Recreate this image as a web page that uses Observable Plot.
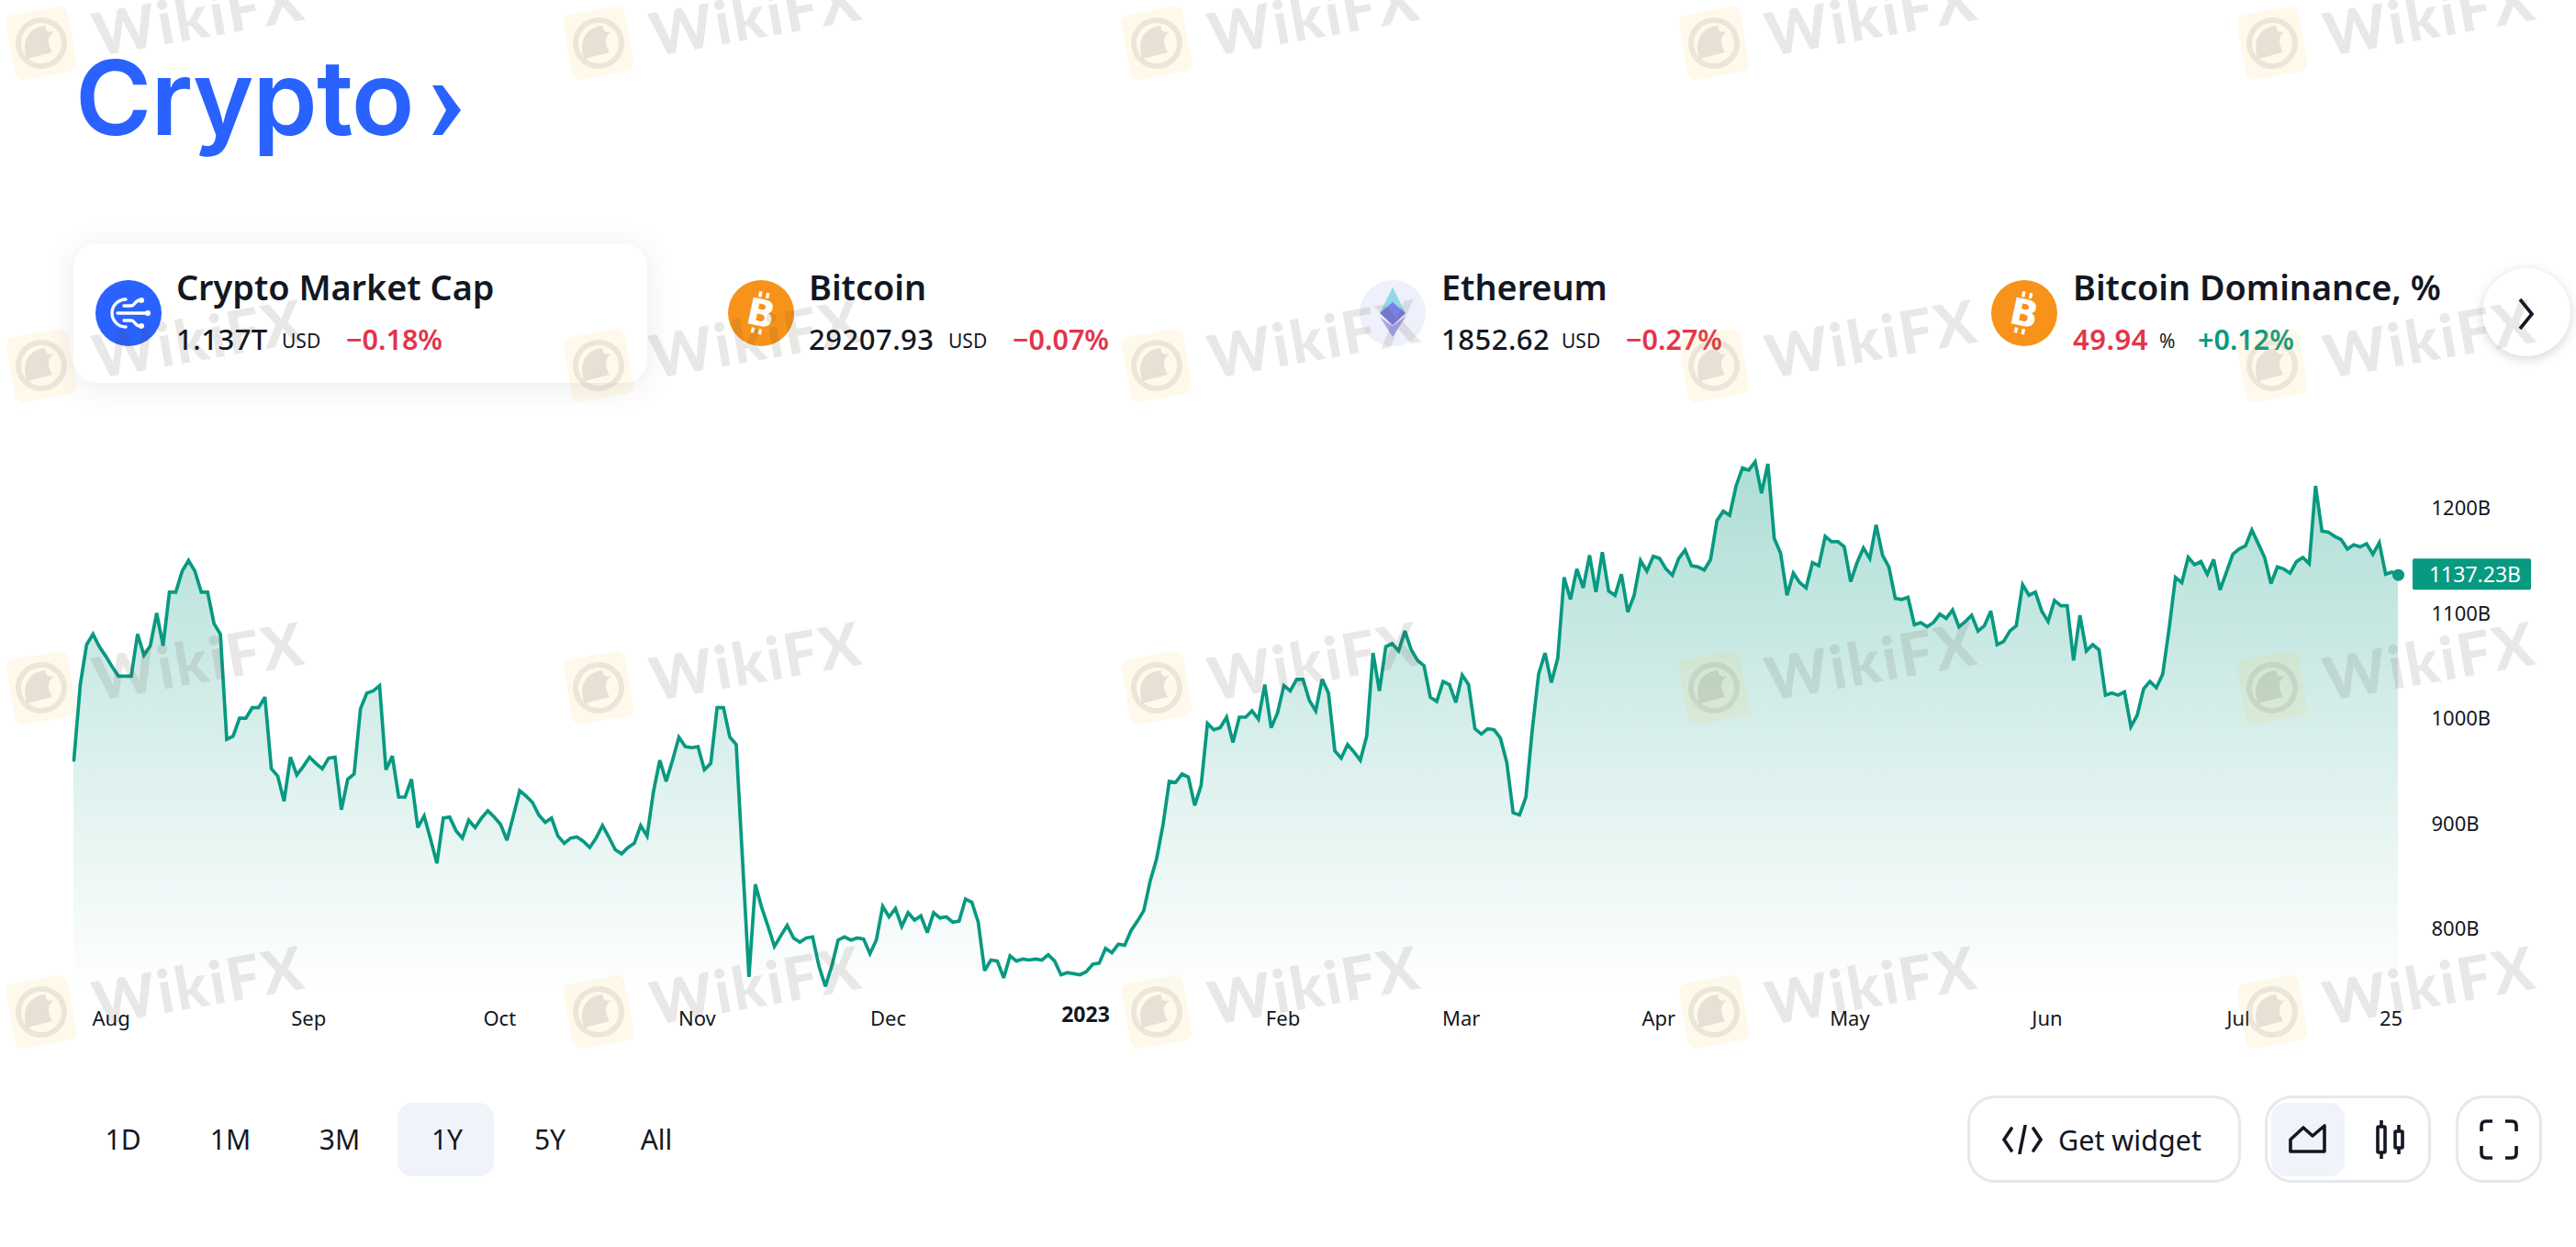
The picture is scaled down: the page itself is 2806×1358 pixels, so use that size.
<!DOCTYPE html>
<html><head><meta charset="utf-8">
<script src="https://cdn.jsdelivr.net/npm/d3@7"></script>
<script src="https://cdn.jsdelivr.net/npm/@observablehq/plot@0.6"></script>
<style>
html,body{margin:0;padding:0;background:#fff;}
body{width:2806px;height:1358px;overflow:hidden;position:relative;font-family:"Noto Sans",sans-serif;color:#131722;}
#head{position:relative;height:480px;}
#foot{position:relative;height:218px;}
#chart{height:660px;}
.a{position:absolute;white-space:nowrap;}
.t{font-size:37.8px;font-weight:600;line-height:44px;}
.v{font-size:31px;font-weight:500;line-height:36px;letter-spacing:.5px;}
.u{font-size:21px;line-height:36px;}
.r{font-size:30.5px;font-weight:600;color:#e2354a;line-height:36px;}
.g{font-size:30.5px;font-weight:600;color:#089981;line-height:36px;}
.c{position:absolute;width:72px;height:72px;border-radius:50%;}
.rg{font-size:30px;line-height:36px;transform:translateX(-50%);}
.box{position:absolute;border:3px solid #e6e8ee;border-radius:30px;box-sizing:border-box;background:#fff;}
#wm{position:absolute;left:0;top:0;pointer-events:none;}
</style></head><body>
<div id="head"></div><div id="chart"></div><div id="foot"></div>
<script>
// ---- data -----------------------------------------------------------
const seriesStart = "2022-07-26";
const marketCap = [
961,1033,1071,1081,1069,1060,1050,1041,1041,1041,1081,1061,1070,1101,1070,1121,1121,1141,1151,1141,
1121,1121,1091,1081,981,984,1001,1001,1011,1011,1021,953,946,922,964,947,955,964,958,953,
963,964,914,943,948,1010,1025,1027,1032,952,965,926,926,943,897,908,886,863,906,907,
894,887,904,897,906,913,907,900,885,908,932,927,921,909,902,906,889,882,887,888,
884,878,887,899,888,876,872,878,882,899,889,931,961,941,961,983,974,973,974,952,
958,1011,1011,983,976,865,755,843,821,803,784,794,804,792,788,792,793,765,746,765,
790,793,790,792,791,777,790,822,812,820,803,816,809,813,797,816,811,812,807,808,
829,826,807,761,771,770,754,775,770,772,771,772,771,776,770,757,759,758,757,760,
767,768,782,778,786,785,799,808,818,846,867,899,941,940,948,945,918,937,996,990,
992,1002,978,1002,1002,1008,1000,1033,992,1006,1032,1027,1038,1038,1018,1008,1038,1025,970,963,
976,969,961,984,1063,1027,1069,1072,1065,1084,1066,1056,1051,1021,1017,1036,1033,1016,1042,1033,
991,986,991,990,982,959,911,909,926,990,1043,1063,1035,1058,1135,1114,1143,1125,1156,1121,
1159,1122,1118,1138,1102,1118,1151,1141,1155,1153,1143,1137,1153,1161,1146,1145,1142,1152,1189,1198,
1194,1222,1239,1237,1245,1215,1243,1172,1158,1118,1139,1130,1125,1149,1146,1174,1169,1169,1164,1131,
1149,1163,1153,1185,1156,1145,1115,1114,1116,1090,1092,1088,1092,1100,1096,1104,1088,1093,1099,1084,
1089,1103,1071,1074,1084,1089,1128,1118,1121,1103,1093,1113,1108,1108,1056,1099,1065,1071,1066,1023,
1025,1023,1026,993,1004,1029,1036,1030,1043,1086,1135,1130,1154,1147,1150,1138,1152,1123,1140,1157,
1162,1165,1180,1167,1154,1129,1145,1143,1139,1150,1154,1148,1222,1179,1178,1174,1171,1162,1166,1164,
1167,1157,1168,1138,1140,1137.23];
const priceTicks = [800,900,1000,1100,1200];
const monthTickDates = ["2022-08-01","2022-09-01","2022-10-01","2022-11-01","2022-12-01","2023-02-01","2023-03-01","2023-04-01","2023-05-01","2023-06-01","2023-07-01","2023-07-25"];
const monthTickLabels = ["Aug","Sep","Oct","Nov","Dec","Feb","Mar","Apr","May","Jun","Jul","25"];
const yearTickDate = "2023-01-01";
const yearTickLabel = "2023";
const tickers = ["Crypto Market Cap","Bitcoin","Ethereum","Bitcoin Dominance, %"];
const tickerValues = ["1.137T","29207.93","1852.62","49.94"];
const tickerUnits = ["USD","USD","USD","%"];
const tickerChanges = ["−0.18%","−0.07%","−0.27%","+0.12%"];
const ranges = ["1D","1M","3M","1Y","5Y","All"];
const lastLabel = "1137.23B";

// ---- chart ----------------------------------------------------------
const UP = "#089981";
const start = new Date(seriesStart);
const table = marketCap.map((v,i)=>({date:d3.utcDay.offset(start,i),value:v}));
const last = table[table.length-1];
const tickDates = monthTickDates.map(d=>new Date(d));
const labelOf = new Map(tickDates.map((d,i)=>[+d,monthTickLabels[i]]));
const FONT = '"Noto Sans",sans-serif';

const chart = Plot.plot({
  width:2806,height:660,
  marginLeft:80,marginRight:194,marginTop:0,marginBottom:60,
  style:{fontFamily:FONT,fontSize:"22px",color:"#131722",background:"transparent",overflow:"visible"},
  x:{type:"utc",domain:[table[0].date,last.date],axis:null},
  y:{domain:[740.4,1264.5],axis:null},
  marks:[
    ()=>{const s=d3.create("svg:defs");
      const g=s.append("linearGradient").attr("id","fade").attr("x1",0).attr("x2",0).attr("y1",0).attr("y2",1);
      g.append("stop").attr("offset","0%").attr("stop-color",UP).attr("stop-opacity",0.33);
      g.append("stop").attr("offset","100%").attr("stop-color",UP).attr("stop-opacity",0);
      return s.node();},
    Plot.areaY(table,{x:"date",y1:740.4,y2:"value",fill:"url(#fade)"}),
    Plot.lineY(table,{x:"date",y:"value",stroke:UP,strokeWidth:3.7,strokeLinejoin:"miter",strokeMiterlimit:3}),
    Plot.dot([last],{x:"date",y:"value",r:6.5,fill:UP}),
    Plot.axisY({anchor:"right",ticks:priceTicks,tickSize:0,tickPadding:36,tickFormat:d=>d+"B",label:null}),
    Plot.axisX({anchor:"bottom",ticks:tickDates,tickSize:0,tickPadding:21,dx:-1,tickFormat:d=>labelOf.get(+d),label:null}),
    Plot.text([new Date(yearTickDate)],{x:d=>d,text:()=>yearTickLabel,frameAnchor:"bottom",dy:32,dx:-1,fontWeight:700,fontSize:23,fill:"#131722"}),
    (index,scales,values,dims)=>{const y=scales.y(last.value);
      const g=d3.create("svg:g");
      g.append("rect").attr("x",dims.width-dims.marginRight+16).attr("y",y-17.5).attr("width",129).attr("height",34).attr("rx",2).attr("fill",UP);
      g.append("text").attr("x",dims.width-dims.marginRight+84).attr("y",y).attr("dy","0.36em").attr("text-anchor","middle").attr("fill","#fff").attr("font-size",23).text(lastLabel);
      return g.node();}
  ]
});
document.getElementById("chart").append(chart);

// ---- page furniture above the chart ---------------------------------
const head = document.getElementById("head");
const btc = '<svg width="72" height="72" viewBox="0 0 72 72"><circle cx="36" cy="36" r="36" fill="#f7931a"/><text x="36" y="50" text-anchor="middle" transform="rotate(12 36 36)" font-family="DejaVu Sans" font-weight="700" font-size="40" fill="#fff">B</text><path d="M31 13v6M39 13v6M31 53v6M39 53v6" stroke="#fff" stroke-width="3.5" transform="rotate(12 36 36)"/></svg>';
const cap = '<svg width="72" height="72" viewBox="0 0 72 72"><circle cx="36" cy="36" r="36" fill="#2962ff"/><g fill="none" stroke="#fff" stroke-width="3.4" stroke-linecap="round"><path d="M33 21a15 15 0 0 0 0 30"/><path d="M24 36h31M33 28h6c4 0 4-6 9-6M33 44h6c4 0 4 6 9 6M31 28h6M31 44h6"/></g><circle cx="50" cy="22" r="3" fill="#fff"/><circle cx="57" cy="36" r="3" fill="#fff"/><circle cx="50" cy="50" r="3" fill="#fff"/></svg>';
const eth = '<svg width="72" height="72" viewBox="0 0 72 72"><circle cx="36" cy="36" r="36" fill="#eef0fb"/><path d="M36 8L50 36 36 29 22 36z" fill="#8fd8e8"/><path d="M36 24L50 36 36 49 22 36z" fill="#7a7fe0"/><path d="M22 40L36 50 50 40 36 62z" fill="#a9a6ee"/></svg>';
const icons=[cap,btc,eth,btc];
const iconX=[104,793,1481,2169], textX=[192,881,1570,2258], unitX=[307,1033,1701,2352], chgX=[377,1103,1771,2394];
let html = `<div class="a" style="left:82px;top:38px;font-family:Inter,sans-serif;font-weight:600;font-size:113px;line-height:136px;color:#2962ff;letter-spacing:-1px">Crypto</div>
<svg class="a" style="left:465px;top:88px" width="44" height="64"><path d="M6 5h11l20 27-20 27H6l15-27z" fill="#2962ff"/></svg>
<div class="a" style="left:80px;top:265px;width:625px;height:152px;border-radius:26px;background:#fff;box-shadow:0 4px 32px rgba(42,46,80,.10)"></div>`;
tickers.forEach((t,i)=>{
  html+=`<div class="c" style="left:${iconX[i]}px;top:305px">${icons[i]}</div>
  <div class="a t" style="left:${textX[i]}px;top:291px">${t}</div>
  <div class="a v" style="left:${textX[i]}px;top:351px;${i==3?'color:#e2354a;font-weight:600':''}">${tickerValues[i]}</div>
  <div class="a u" style="left:${unitX[i]}px;top:353px">${tickerUnits[i]}</div>
  <div class="a ${tickerChanges[i][0]=='+'?'g':'r'}" style="left:${chgX[i]}px;top:351px">${tickerChanges[i]}</div>`;
});
html+=`<div class="a" style="left:2704px;top:292px;width:96px;height:96px;border-radius:50%;background:#fff;box-shadow:0 3px 12px rgba(42,46,70,.2)"></div>
<svg class="a" style="left:2740px;top:322px" width="24" height="40"><path d="M5 4l13 16L5 36" fill="none" stroke="#131722" stroke-width="3.6"/></svg>`;
head.innerHTML=html;

// ---- page furniture below the chart ---------------------------------
const foot=document.getElementById("foot");
const rangeX=[134,251,370,487,599,715];
let fh=`<div class="a" style="left:433px;top:61px;width:105px;height:80px;border-radius:16px;background:#f0f3fa"></div>`;
ranges.forEach((r,i)=>{fh+=`<div class="a rg" style="left:${rangeX[i]}px;top:83px">${r}</div>`;});
const ic='fill="none" stroke="#131722" stroke-width="3.6"';
fh+=`<div class="box" style="left:2143px;top:53px;width:298px;height:95px"></div>
<svg class="a" style="left:2181px;top:85px" width="44" height="32"><path d="M10 4L2 16l8 12M34 4l8 12-8 12M25 1l-6 30" ${ic} stroke-linecap="round"/></svg>
<div class="a" style="left:2242px;top:83px;font-size:30.5px;line-height:36px">Get widget</div>
<div class="box" style="left:2467px;top:53px;width:181px;height:95px"></div>
<div class="a" style="left:2474px;top:61px;width:80px;height:80px;border-radius:16px;background:#f0f3fa"></div>
<svg class="a" style="left:2492px;top:77px" width="44" height="44"><path d="M3 24l14-13 10 9 13-11v28H3z" ${ic} stroke-linejoin="round"/></svg>
<svg class="a" style="left:2583px;top:78px" width="40" height="46"><path d="M11 2v42M30 7v32" ${ic}/><rect x="7" y="9" width="8" height="28" fill="#fff" stroke="#131722" stroke-width="3.6" rx="1"/><rect x="26" y="14" width="8" height="18" fill="#fff" stroke="#131722" stroke-width="3.6" rx="1"/></svg>
<div class="box" style="left:2675px;top:53px;width:94px;height:95px"></div>
<svg class="a" style="left:2701px;top:79px" width="42" height="44"><path d="M2 13V7q0-5 5-5h7M28 2h7q5 0 5 5v6M40 29v8q0 5-5 5h-7M14 42H7q-5 0-5-5v-8" ${ic}/></svg>`;
foot.innerHTML=fh;

// ---- watermark over the page ----------------------------------------
const wmRows=[47,398,749,1102], wmCols=[45,652,1260,1867,2475], wmText="WikiFX";
let w=`<svg id="wm" width="2806" height="1358">`;
wmRows.forEach(y=>wmCols.forEach(x=>{
  w+=`<g transform="translate(${x},${y}) rotate(-10)">
  <rect x="-34" y="-36" width="68" height="72" rx="9" fill="#f5c83c" fill-opacity=".10"/>
  <circle r="25" fill="none" stroke="#50403a" stroke-opacity=".10" stroke-width="6"/>
  <path d="M-18 14C-22-6-10-20 8-18c-2 6 2 8 8 8-8 4-10 10-6 22z" fill="#50403a" fill-opacity=".13"/>
  <text x="174" y="2" dy=".35em" text-anchor="middle" font-family="Lato,sans-serif" font-weight="900" font-size="65" letter-spacing="2.5" fill="#50403a" fill-opacity=".12">${wmText}</text></g>`;
}));
w+=`</svg>`;
document.body.insertAdjacentHTML("beforeend",w);
</script>
</body></html>
